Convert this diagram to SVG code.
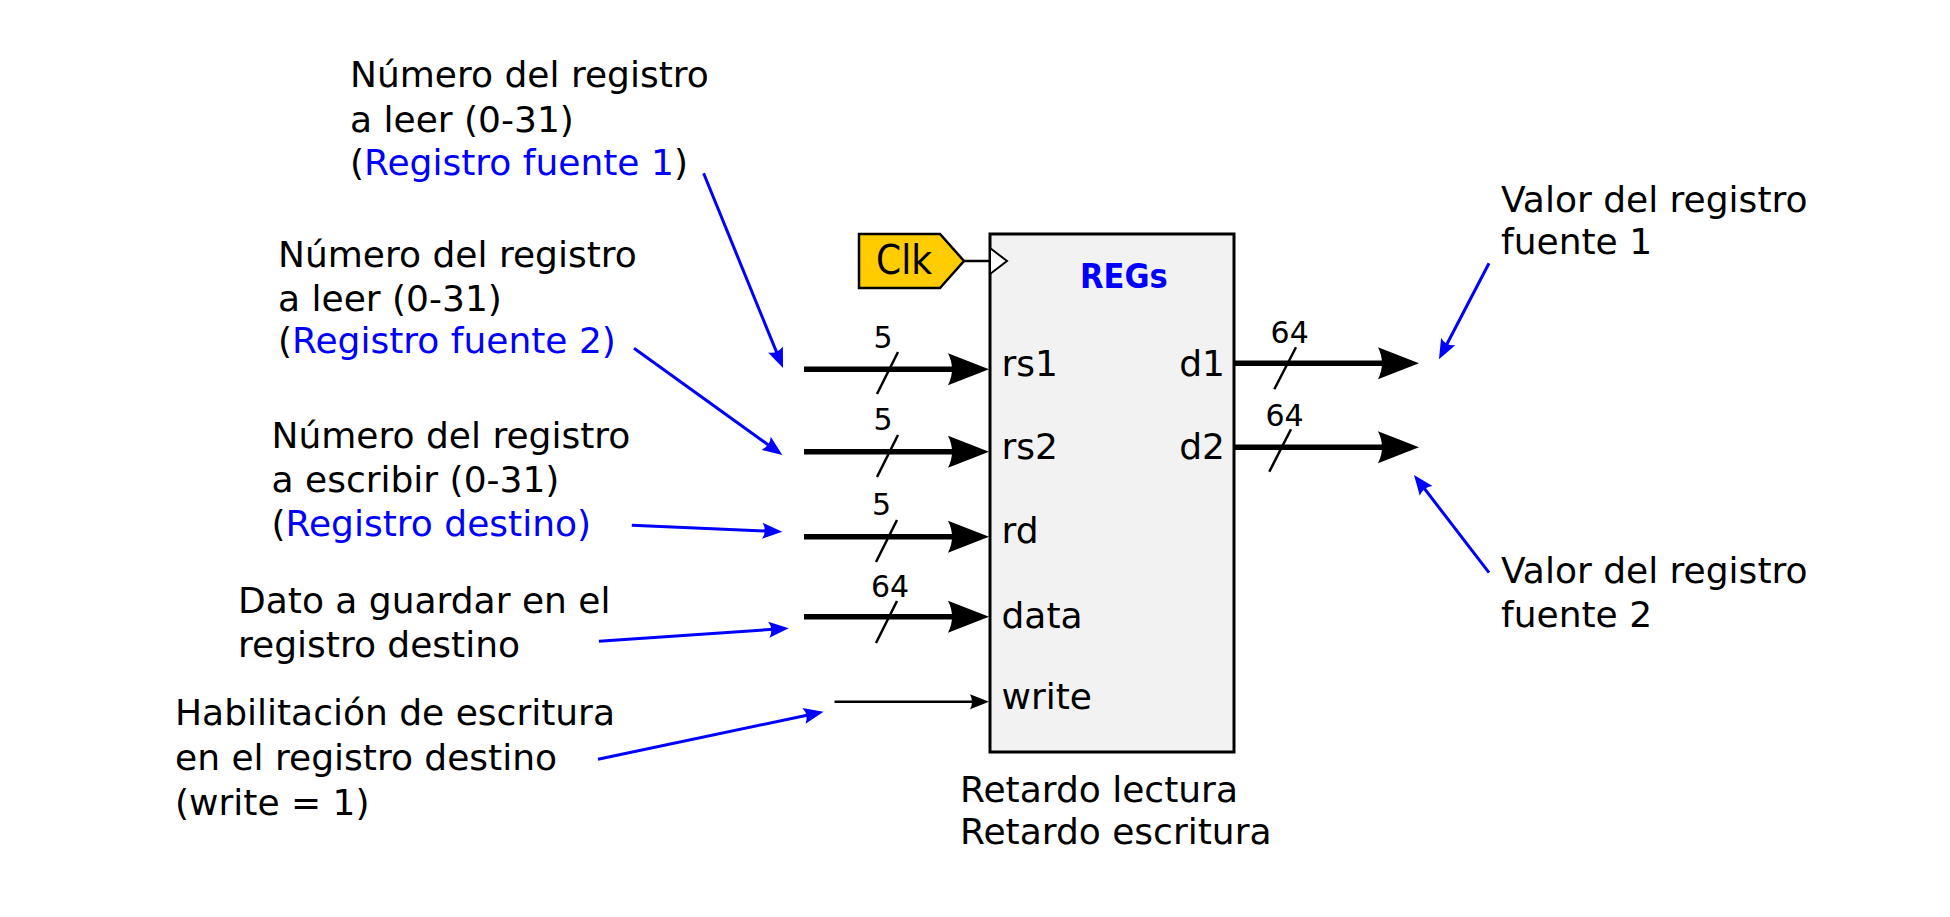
<svg xmlns="http://www.w3.org/2000/svg" width="1950" height="917" viewBox="0 0 1950 917">
<style>
text{font-family:"DejaVu Sans","Liberation Sans",sans-serif;}
.t{font-size:36px;fill:#000;}
.b{fill:#0000ff;}
.w{font-size:30px;fill:#000;text-anchor:middle;}
.bus{stroke:#000;stroke-width:5.5;fill:none;marker-end:url(#mBig);}
.sl{stroke:#000;stroke-width:2.5;fill:none;}
.blue{stroke:#0000ff;stroke-width:3;fill:none;marker-end:url(#mBlue);}
</style>
<defs>
<marker id="mBig" markerUnits="userSpaceOnUse" markerWidth="50" markerHeight="40" refX="0" refY="0" orient="auto" overflow="visible">
<path d="M29,0 L-12,-16 Q-4,0 -12,16 Z" fill="#000"/>
</marker>
<marker id="mSmall" markerUnits="userSpaceOnUse" markerWidth="30" markerHeight="20" refX="0" refY="0" orient="auto" overflow="visible">
<path d="M13,0 L-6,-7.5 Q-2,0 -6,7.5 Z" fill="#000"/>
</marker>
<marker id="mBlue" markerUnits="userSpaceOnUse" markerWidth="30" markerHeight="20" refX="0" refY="0" orient="auto" overflow="visible">
<path d="M12,0 L-8,-8 Q-3,0 -8,8 Z" fill="#0000ff"/>
</marker>
</defs>
<rect width="1950" height="917" fill="#fff"/>

<g id="regs">
<rect x="990" y="234" width="244" height="518" fill="#f2f2f2" stroke="#000" stroke-width="3"/>
<polygon points="990,248 1007,261 990,274" fill="#fff" stroke="#000" stroke-width="2"/>
<text x="1080" y="288" font-size="34" font-weight="bold" font-stretch="condensed" fill="#0000ff">REGs</text>
<text class="t" x="1001.5" y="376">rs1</text>
<text class="t" x="1001.5" y="459.3">rs2</text>
<text class="t" x="1001.5" y="542.7">rd</text>
<text class="t" x="1001.5" y="627.7">data</text>
<text class="t" x="1001.5" y="709.3">write</text>
<text class="t" x="1225" y="376" text-anchor="end">d1</text>
<text class="t" x="1225" y="459.3" text-anchor="end">d2</text>
</g>

<g id="clk">
<polygon points="859,234 940,234 964,261 940,288 859,288" fill="#ffcc00" stroke="#000" stroke-width="2.5"/>
<text x="876" y="274" font-size="40" font-stretch="condensed" fill="#000">Clk</text>
</g>

<g id="delays">
<text class="t" x="960" y="801.7">Retardo lectura</text>
<text class="t" x="960" y="844">Retardo escritura</text>
</g>

<g id="label-rs1">
<text class="t" x="350" y="86.7">Número del registro</text>
<text class="t" x="350" y="131.7">a leer (0-31)</text>
<text class="t" x="350" y="175">(<tspan class="b">Registro fuente 1</tspan>)</text>
</g>
<g id="label-rs2">
<text class="t" x="278" y="266.7">Número del registro</text>
<text class="t" x="278" y="310.7">a leer (0-31)</text>
<text class="t" x="278" y="353.3">(<tspan class="b">Registro fuente 2)</tspan></text>
</g>
<g id="label-rd">
<text class="t" x="271.5" y="447.7">Número del registro</text>
<text class="t" x="271.5" y="491.7">a escribir (0-31)</text>
<text class="t" x="271.5" y="536">(<tspan class="b">Registro destino)</tspan></text>
</g>
<g id="label-data">
<text class="t" x="238" y="613.3">Dato a guardar en el</text>
<text class="t" x="238" y="657.3">registro destino</text>
</g>
<g id="label-write">
<text class="t" x="175" y="725">Habilitación de escritura</text>
<text class="t" x="175" y="770">en el registro destino</text>
<text class="t" x="175" y="815">(write = 1)</text>
</g>
<g id="label-d1">
<text class="t" x="1501" y="211.7">Valor del registro</text>
<text class="t" x="1501" y="254">fuente 1</text>
</g>
<g id="label-d2">
<text class="t" x="1501" y="583.3">Valor del registro</text>
<text class="t" x="1501" y="626.7">fuente 2</text>
</g>

<g id="bus-widths">
<text class="w" x="883" y="348.3">5</text>
<text class="w" x="883" y="430">5</text>
<text class="w" x="881.5" y="515">5</text>
<text class="w" x="890" y="597">64</text>
<text class="w" x="1289.7" y="343.3">64</text>
<text class="w" x="1284.5" y="426">64</text>
</g>

<g id="connectors">
<line x1="964" y1="261" x2="990" y2="261" stroke="#000" stroke-width="2.5"/>
<line class="bus" x1="804" y1="369.3" x2="960" y2="369.3"/>
<line class="bus" x1="804" y1="451.7" x2="960" y2="451.7"/>
<line class="bus" x1="804" y1="536.7" x2="960" y2="536.7"/>
<line class="bus" x1="804" y1="616.7" x2="960" y2="616.7"/>
<line class="bus" x1="1234" y1="363.3" x2="1390" y2="363.3"/>
<line class="bus" x1="1234" y1="447.3" x2="1390" y2="447.3"/>
<line x1="834.5" y1="701.7" x2="976" y2="701.7" stroke="#000" stroke-width="2.5" marker-end="url(#mSmall)"/>
<line class="sl" x1="898" y1="352" x2="877" y2="394"/>
<line class="sl" x1="898" y1="435" x2="877" y2="477"/>
<line class="sl" x1="897" y1="520" x2="876" y2="562"/>
<line class="sl" x1="897" y1="601" x2="876" y2="643"/>
<line class="sl" x1="1296" y1="347.3" x2="1274.3" y2="389.3"/>
<line class="sl" x1="1291" y1="429.3" x2="1269.3" y2="471.7"/>
<line class="blue" x1="703.6" y1="173.3" x2="778.5" y2="356.9"/>
<line class="blue" x1="634" y1="348.3" x2="772.6" y2="448"/>
<line class="blue" x1="631.8" y1="525.3" x2="770.3" y2="531.2"/>
<line class="blue" x1="598.9" y1="641.3" x2="776.8" y2="629.1"/>
<line class="blue" x1="598" y1="759.3" x2="811.8" y2="714.2"/>
<line class="blue" x1="1489" y1="263.3" x2="1444.5" y2="348.7"/>
<line class="blue" x1="1489" y1="572.7" x2="1421.3" y2="484.5"/>
</g>
</svg>
